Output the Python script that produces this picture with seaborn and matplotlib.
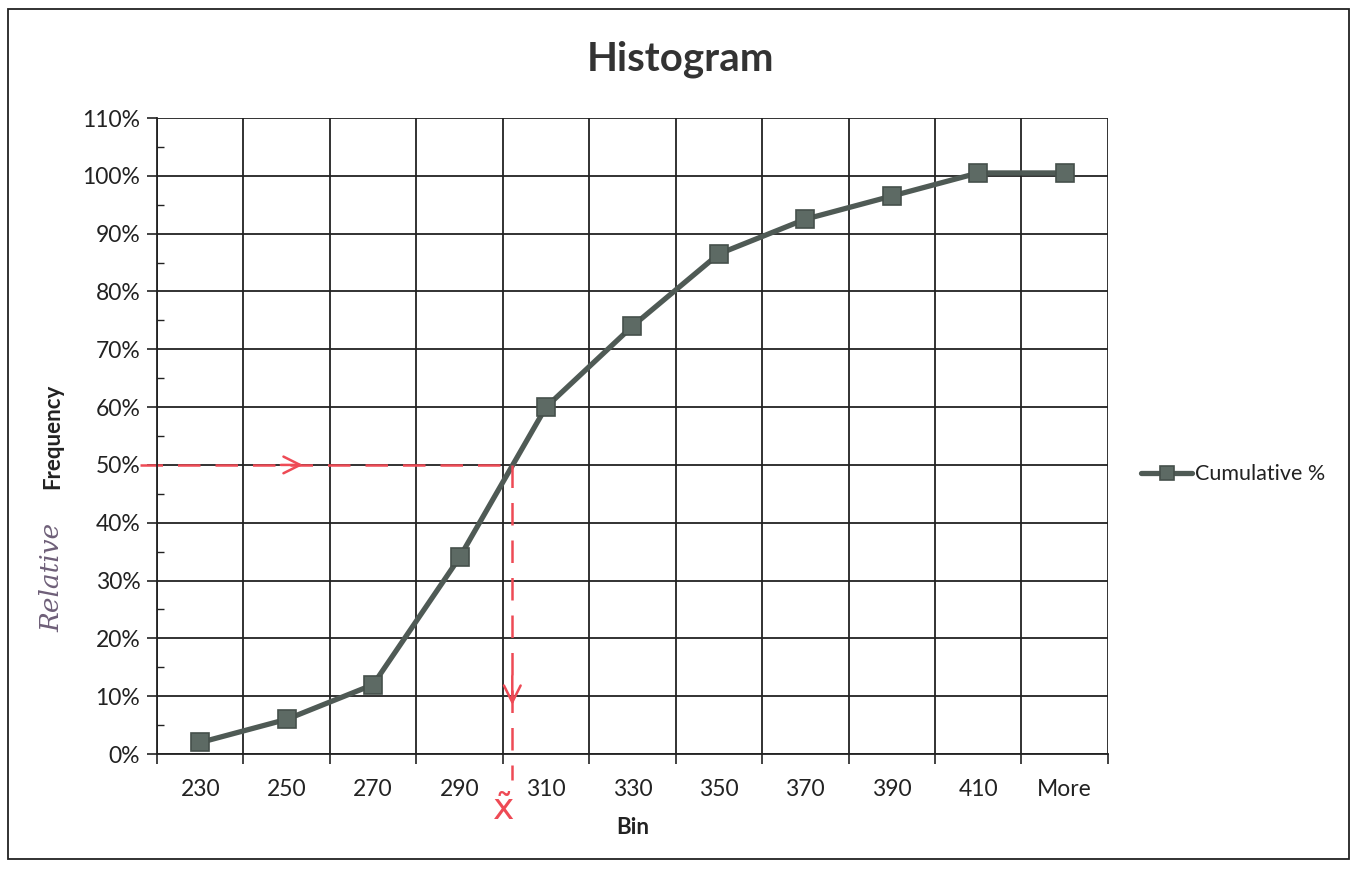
import matplotlib
matplotlib.use("Agg")
import matplotlib.pyplot as plt
import seaborn as sns
import pandas as pd
import numpy as np
from matplotlib.patches import Rectangle
from matplotlib.ticker import MultipleLocator, FixedLocator, FuncFormatter

bins = ["230", "250", "270", "290", "310", "330", "350", "370", "390", "410", "More"]
cumulative_pct = [2, 6, 12, 34, 60, 74, 86.5, 92.5, 96.5, 100.5, 100.5]

sns.set_theme(style="white")
plt.rcParams['font.family'] = ['Lato', 'DejaVu Sans']

df = pd.DataFrame({"Bin": bins, "Cumulative %": cumulative_pct})
df["pos"] = np.arange(len(bins))

fig = plt.figure(figsize=(13.56, 8.69), dpi=100)
ax = fig.add_axes([0.1158, 0.1323, 0.7012, 0.7319])

line_col = "#4f5a55"
sns.lineplot(data=df, x="pos", y="Cumulative %", ax=ax, color=line_col, linewidth=3.8,
             marker="s", markersize=13.5, markerfacecolor="#5d6a64",
             markeredgecolor="#46504b", markeredgewidth=1.2, label="Cumulative %", legend=False)

ax.set_xlim(-0.5, len(bins) - 0.5)
ax.set_ylim(0, 110)
ax.xaxis.set_major_locator(FixedLocator(df["pos"].tolist()))
ax.set_xticklabels(bins)
ax.xaxis.set_minor_locator(FixedLocator(list(np.arange(-0.5, len(bins), 1.0))))
ax.yaxis.set_major_locator(MultipleLocator(10))
ax.yaxis.set_minor_locator(MultipleLocator(5))
ax.yaxis.set_major_formatter(FuncFormatter(lambda v, p: f"{int(round(v))}%"))

ax.grid(False)
ax.grid(True, which="minor", axis="x", color="#222222", linewidth=1.3)
ax.grid(True, which="major", axis="y", color="#222222", linewidth=1.3)

ax.tick_params(axis="x", which="major", length=0, labelsize=16.5, colors="#222222", pad=18)
ax.tick_params(axis="x", which="minor", length=7, width=1.2, color="#222222", direction="out", bottom=True)
ax.tick_params(axis="y", which="major", length=7, width=1.2, color="#222222", direction="out", left=True,
               labelsize=16.5, labelcolor="#222222", pad=5)
ax.tick_params(axis="y", which="minor", length=5, width=1.0, color="#222222", direction="in", left=True)

for side in ["top", "right"]:
    ax.spines[side].set_visible(False)
for side in ["left", "bottom"]:
    ax.spines[side].set_color("#222222")
    ax.spines[side].set_linewidth(1.3)

ax.set_xlabel("Bin", fontsize=16, fontweight="bold", color="#222222", labelpad=12)
ax.set_ylabel("Frequency", fontsize=16, fontweight="bold", color="#222222", labelpad=14)

fig.text(0.502, 0.932, "Histogram", ha="center", va="center", fontsize=29, fontweight="bold", color="#333333")

handles, labels = ax.get_legend_handles_labels()
leg = fig.legend(handles, labels, loc="center left", bbox_to_anchor=(0.827, 0.454), frameon=False,
                 fontsize=15.5, handlelength=2.4, handletextpad=0.1, markerscale=0.75)
for t in leg.get_texts():
    t.set_color("#222222")

# outer frame
fig.patches.append(Rectangle((0.006, 0.012), 0.989, 0.978, transform=fig.transFigure,
                             fill=False, edgecolor="#222222", linewidth=1.3))

# handwritten red annotations (median)
red = "#ee4a55"
median_x = 3.61
ax.plot([-0.7, median_x], [50, 50], color=red, linewidth=1.8, linestyle=(0, (9, 6)), clip_on=False)
ax.plot([median_x, median_x], [50, -4.5], color=red, linewidth=1.8, linestyle=(0, (9, 6)), clip_on=False)
ax.annotate("", xy=(1.22, 50), xytext=(0.9, 50),
            arrowprops=dict(arrowstyle="->", color=red, lw=1.8, mutation_scale=30))
ax.annotate("", xy=(median_x, 8), xytext=(median_x, 14),
            arrowprops=dict(arrowstyle="->", color=red, lw=1.8, mutation_scale=30))
ax.text(median_x - 0.1, -9.5, "x\u0303", color=red, fontsize=26, ha="center", va="center",
        family=["DejaVu Sans"], clip_on=False)
fig.text(0.038, 0.335, "Relative", rotation=90, color="#6e5f78", fontsize=19, style="italic",
         ha="center", va="center", family=["DejaVu Serif"])

fig.savefig("out.png", dpi=100)
